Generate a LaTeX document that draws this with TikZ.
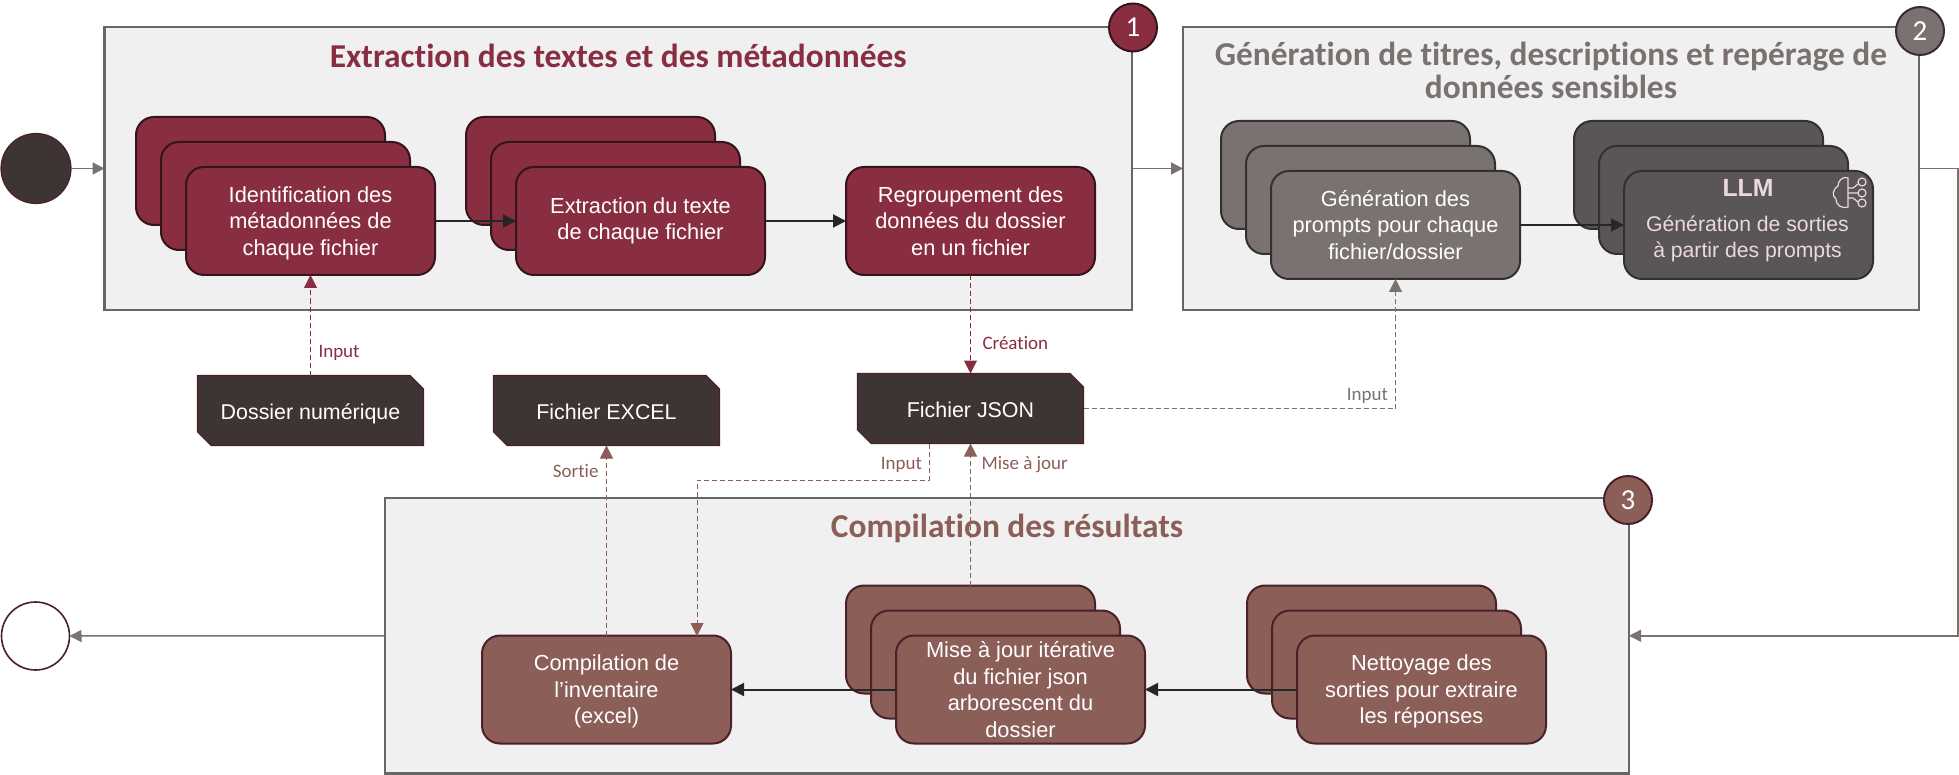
\documentclass[tikz,border=0pt]{standalone}
\usepackage{fontspec}
\setmainfont{Liberation Sans}
\newfontfamily\titlefont[Ligatures=NoCommon]{Carlito}
\usepackage{xcolor}
\usetikzlibrary{positioning,arrows.meta,shapes.misc}
\definecolor{wine}{HTML}{892E40}
\definecolor{wineline}{HTML}{35141C}
\definecolor{ash}{HTML}{7A7270}
\definecolor{ashdark}{HTML}{5A5556}
\definecolor{ashline}{HTML}{333030}
\definecolor{clay}{HTML}{8B5E58}
\definecolor{clayline}{HTML}{4B2028}
\definecolor{coal}{HTML}{3F3434}
\definecolor{panelfill}{HTML}{F0F0F0}
\definecolor{panelline}{HTML}{666666}
\definecolor{blush}{HTML}{EBD9DC}
\tikzset{
  panel/.style={draw=panelline,fill=panelfill,line width=1.2pt,minimum height=141.5pt},
  paneltitle/.style={font=\titlefont\bfseries\fontsize{16.7}{16.5}\selectfont,align=center},
  badge/.style={circle,minimum size=24pt,line width=1pt,text=white,font=\titlefont\fontsize{14.5}{16}\selectfont},
  card/.style={rounded corners=9pt,minimum width=124.5pt,minimum height=54pt,line width=1pt,
    on grid,text=white,align=center,font=\fontsize{10.9}{13.3}\selectfont},
  winecard/.style={card,draw=wineline,fill=wine},
  ashcard/.style={card,draw=ashline,fill=ash},
  llmcard/.style={card,draw=ashline,fill=ashdark},
  claycard/.style={card,draw=clayline,fill=clay},
  threelines/.style={text height=36.5pt},
  datacard/.style={chamfered rectangle,chamfered rectangle corners={north east,south west},
    chamfered rectangle xsep=3.4pt,chamfered rectangle ysep=3.4pt,draw=clayline,fill=coal,
    line width=.6pt,minimum width=113pt,minimum height=35pt,text=white,
    text height=11.4pt,text depth=2.3pt,font=\fontsize{10.7}{13}\selectfont},
  flow/.style={-{Triangle[width=6pt,length=6pt]},line width=.75pt,draw=ash},
  step line/.style={-{Triangle[width=6.5pt,length=6.5pt]},line width=1pt,draw=black!85},
  dataflow/.style={-{Triangle[width=6.5pt,length=6.5pt]},line width=.5pt,dash pattern=on 2.5pt off 1.5pt},
  tag/.style={font=\titlefont\fontsize{9.5}{11}\selectfont},
  llmicon/.style={draw=blush,line width=.6pt},
  every node/.append style={inner sep=0pt,outer sep=0pt}
}
\begin{document}
\begin{tikzpicture}[x=.5pt,y=-.5pt]
  \useasboundingbox (0,0) rectangle (1959,775);
  % start and end
  \node[circle,draw=clayline,fill=coal,line width=.6pt,minimum size=35pt] (start) at (36,168.5) {};
  \node[circle,draw=clayline,fill=white,line width=.8pt,minimum size=34pt] (end) at (35.5,636) {};
  % panels
  \node[panel,minimum width=513.75pt] (extraction) at (618.25,168.5) {};
  \node[panel,minimum width=368pt] (generation) at (1551,168.5) {};
  \node[panel,minimum width=622pt,minimum height=137.75pt] (compilation) at (1007,635.75) {};
  \node[paneltitle,text=wine] (extractiontitle) at (618.25,56) {Extraction des textes et des métadonnées};
  \node[paneltitle,text=ash] (generationtitle) at (1551,70) {Génération de titres, descriptions et repérage de\\données sensibles};
  \node[paneltitle,text=clay] (compilationtitle) at (1007,528) {Compilation des résultats};
  \node[badge,draw=wineline,fill=wine] (badgeA) at (1133,27.5) {1};
  \node[badge,draw=ashline,fill=ash] (badgeB) at (1920,31) {2};
  \node[badge,draw=clayline,fill=clay] (badgeC) at (1628,500) {3};
  % panel 1
  \node[winecard] (idA) at (260.5,171) {};
  \node[winecard,below right=12.5pt and 12.5pt of idA] (idB) {};
  \node[winecard,threelines,below right=12.5pt and 12.5pt of idB] (idC) {Identification des\\métadonnées de\\chaque fichier};
  \node[winecard] (textA) at (590.5,171) {};
  \node[winecard,below right=12.5pt and 12.5pt of textA] (textB) {};
  \node[winecard,below right=12.5pt and 12.5pt of textB] (textC) {Extraction du texte\\de chaque fichier};
  \node[winecard] (regroup) at (970.5,221) {Regroupement des\\données du dossier\\en un fichier};
  % panel 2
  \node[ashcard] (promptA) at (1345.5,175) {};
  \node[ashcard,below right=12.5pt and 12.5pt of promptA] (promptB) {};
  \node[ashcard,below right=12.5pt and 12.5pt of promptB] (promptC) {Génération des\\prompts pour chaque\\fichier/dossier};
  \node[llmcard] (llmA) at (1698.5,175) {};
  \node[llmcard,below right=12.5pt and 12.5pt of llmA] (llmB) {};
  \node[llmcard,below right=12.5pt and 12.5pt of llmB] (llmC) {};
  \node[text=blush,font=\bfseries\fontsize{12.4}{14}\selectfont] (llmtitle) at (1748,188) {LLM};
  \node[text=blush,align=center,font=\fontsize{10.6}{13}\selectfont] (llmtext) at (1747.5,239) {Génération de sorties\\à partir des prompts};
  % brain icon
  \draw[llmicon] (1848,178) .. controls (1841,176) and (1838,182) .. (1838,186)
    .. controls (1832,190) and (1832,196) .. (1836,199) .. controls (1836,206) and (1843,209) .. (1848,207) -- cycle;
  \draw[llmicon] (1862,182) circle (2pt) (1862,193) circle (2pt) (1862,203) circle (2pt);
  \draw[llmicon] (1848,188) -- (1853,188) -- (1858,184) (1848,193) -- (1858,193) (1848,198) -- (1853,198) -- (1858,202);
  % panel 3
  \node[claycard,threelines] (compilA) at (606.5,689.5) {Compilation de\\l’inventaire\\(excel)};
  \node[claycard] (majA) at (970.5,639.5) {};
  \node[claycard,below right=12.5pt and 12.5pt of majA] (majB) {};
  \node[claycard,below right=12.5pt and 12.5pt of majB] (majC) {Mise à jour itérative\\du fichier json\\arborescent du\\dossier};
  \node[claycard] (cleanA) at (1371.5,639.5) {};
  \node[claycard,below right=12.5pt and 12.5pt of cleanA] (cleanB) {};
  \node[claycard,threelines,below right=12.5pt and 12.5pt of cleanB] (cleanC) {Nettoyage des\\sorties pour extraire\\les réponses};
  % files
  \node[datacard] (folder) at (310.5,410.5) {Dossier numérique};
  \node[datacard] (excel) at (606.5,410.5) {Fichier EXCEL};
  \node[datacard] (json) at (970.5,408.5) {Fichier JSON};
  \coordinate (turn) at (1958,168.5);
  \coordinate (jsoninput) at (929,444);
  \coordinate (compilinput) at (697,636);
  % grey flow
  \draw[flow] (start) -- (extraction);
  \draw[flow] (extraction) -- (generation);
  \draw[flow] (generation) -- (turn) |- (compilation);
  \draw[flow] (compilation) -- (end);
  % steps
  \draw[step line] (idC) -- (textC);
  \draw[step line] (textC) -- (regroup);
  \draw[step line] (promptC) -- (llmC);
  \draw[step line] (cleanC) -- (majC);
  \draw[step line] (majC) -- (compilA);
  % data
  \draw[dataflow,draw=wine] (folder.north) -- node[pos=.22,right=4pt,tag,text=wine] (inputA) {Input} (idC.south);
  \draw[dataflow,draw=wine] (regroup.south) -- node[pos=.69,right=6pt,tag,text=wine] (creation) {Création} (json.north);
  \draw[dataflow,draw=ash] (json.east) -| node[pos=.455,above=2.5pt,tag,text=ash] (inputB) {Input} (promptC.south);
  \draw[dataflow,draw=clay] (jsoninput) -- node[pos=.58,left=3.5pt,tag,text=clay] (inputC) {Input} ++(0,36) -| (compilinput);
  \draw[dataflow,draw=clay] (majA.north) -- node[pos=.85,right=5.5pt,tag,text=clay] (update) {Mise à jour} (json.south);
  \draw[dataflow,draw=clay] (compilA.north) -- node[pos=.868,left=4pt,tag,text=clay] (output) {Sortie} (excel.south);
\end{tikzpicture}
\end{document}
